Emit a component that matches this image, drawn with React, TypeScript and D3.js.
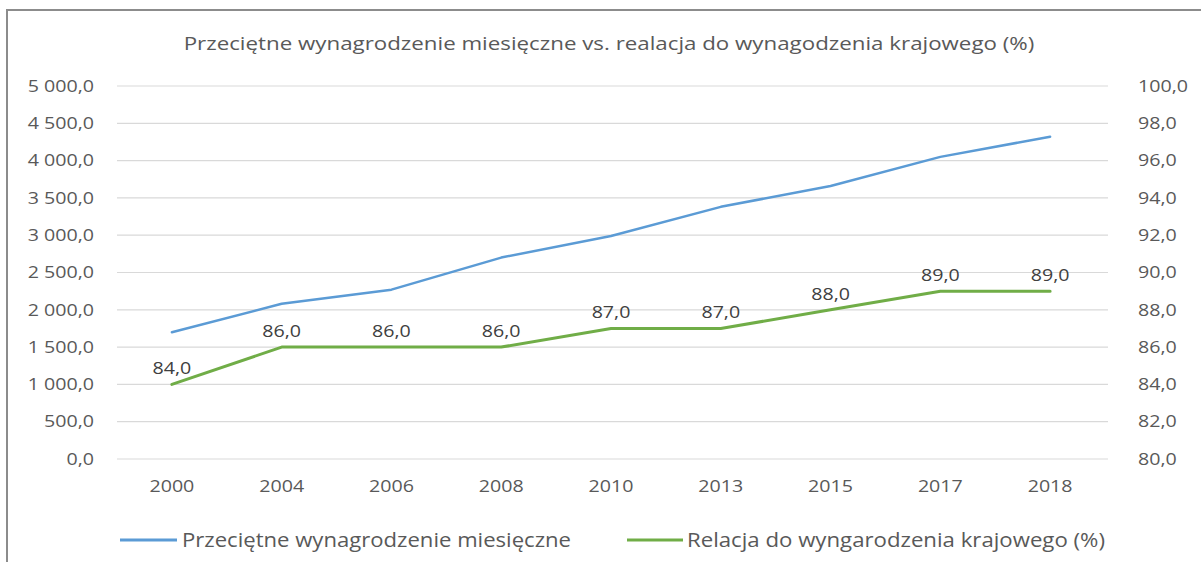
import React from 'react'
import * as d3 from 'd3'

const years = ['2000', '2004', '2006', '2008', '2010', '2013', '2015', '2017', '2018']
const wages = [1700, 2080, 2270, 2700, 2990, 3380, 3660, 4050, 4320]
const relation = [84, 86, 86, 86, 87, 87, 88, 89, 89]
const leftTicks = [0, 500, 1000, 1500, 2000, 2500, 3000, 3500, 4000, 4500, 5000]
const rightTicks = [80, 82, 84, 86, 88, 90, 92, 94, 96, 98, 100]

const title = 'Przeciętne wynagrodzenie miesięczne vs. realacja do wynagodzenia krajowego (%)'
const seriesNames = ['Przeciętne wynagrodzenie miesięczne', 'Relacja do wyngarodzenia krajowego (%)']

const W = 1201
const H = 562
const margin = { top: 86, right: 96, bottom: 103, left: 117 }
const font = "'Open Sans', 'DejaVu Sans', sans-serif"
// the source image is stretched sideways, so texts get widened too
const SX = 1.19

const fmt = (v: number, thousands: boolean) => {
  const s = v.toFixed(1).replace('.', ',')
  if (!thousands) return s
  const [int, dec] = s.split(',')
  return int.replace(/\B(?=(\d{3})+(?!\d))/g, ' ') + ',' + dec
}

type LabelProps = {
  x: number
  y: number
  anchor?: 'start' | 'middle' | 'end'
  size?: number
  fill?: string
  sx?: number
  dy?: string
  children: React.ReactNode
}

const Label = ({ x, y, anchor = 'start', size = 16.5, fill = '#595959', sx = SX, dy = '0.35em', children }: LabelProps) => (
  <text
    transform={`translate(${x},${y}) scale(${sx},1)`}
    dy={dy}
    textAnchor={anchor}
    fontFamily={font}
    fontSize={size}
    fill={fill}
  >
    {children}
  </text>
)

export default function App() {
  const innerW = W - margin.left - margin.right
  const innerH = H - margin.top - margin.bottom

  const x = d3.scalePoint<string>().domain(years).range([0, innerW]).padding(0.5)
  const yL = d3.scaleLinear().domain([0, 5000]).range([innerH, 0])
  const yR = d3.scaleLinear().domain([80, 100]).range([innerH, 0])

  const blueLine = d3.line<number>().x((_, i) => x(years[i])!).y(d => yL(d))
  const greenLine = d3.line<number>().x((_, i) => x(years[i])!).y(d => yR(d))

  return (
    <svg width={W} height={H} style={{ position: 'absolute', left: 0, top: 0, background: '#fff' }}>
      <rect x={0} y={0} width={W} height={H} fill="#fff" />
      <path d={`M7,${H} L7,10 L${W},10`} fill="none" stroke="#8c8c8c" strokeWidth={2} />
      <Label x={609} y={50} anchor="middle" size={18} sx={1.24} dy="0">
        {title}
      </Label>
      <g transform={`translate(${margin.left},${margin.top})`}>
        {leftTicks.map(t => (
          <line key={t} x1={0} x2={innerW + 3} y1={yL(t)} y2={yL(t)} stroke="#d9d9d9" strokeWidth={1.2} />
        ))}
        {leftTicks.map(t => (
          <Label key={'l' + t} x={-23} y={yL(t)} anchor="end">
            {fmt(t, true)}
          </Label>
        ))}
        {rightTicks.map(t => (
          <Label key={'r' + t} x={innerW + 33} y={yR(t)}>
            {fmt(t, false)}
          </Label>
        ))}
        {years.map(yr => (
          <Label key={yr} x={x(yr)!} y={innerH + 27} anchor="middle">
            {yr}
          </Label>
        ))}
        <path d={blueLine(wages)!} fill="none" stroke="#5b9bd5" strokeWidth={2.5} strokeLinejoin="round" strokeLinecap="round" />
        <path d={greenLine(relation)!} fill="none" stroke="#70ad47" strokeWidth={3} strokeLinejoin="round" strokeLinecap="round" />
        {relation.map((v, i) => (
          <Label key={'d' + i} x={x(years[i])!} y={yR(v) - 10} anchor="middle" fill="#404040" dy="0">
            {fmt(v, false)}
          </Label>
        ))}
      </g>
      <g transform={`translate(0,${H - 22})`}>
        <line x1={120} x2={177} y1={0} y2={0} stroke="#5b9bd5" strokeWidth={3} />
        <text x={182} y={0} dy="0.35em" fontFamily={font} fontSize={20} fill="#595959" textLength={389} lengthAdjust="spacingAndGlyphs">
          {seriesNames[0]}
        </text>
        <line x1={627} x2={683} y1={0} y2={0} stroke="#70ad47" strokeWidth={3} />
        <text x={687} y={0} dy="0.35em" fontFamily={font} fontSize={20} fill="#595959" textLength={418} lengthAdjust="spacingAndGlyphs">
          {seriesNames[1]}
        </text>
      </g>
    </svg>
  )
}
